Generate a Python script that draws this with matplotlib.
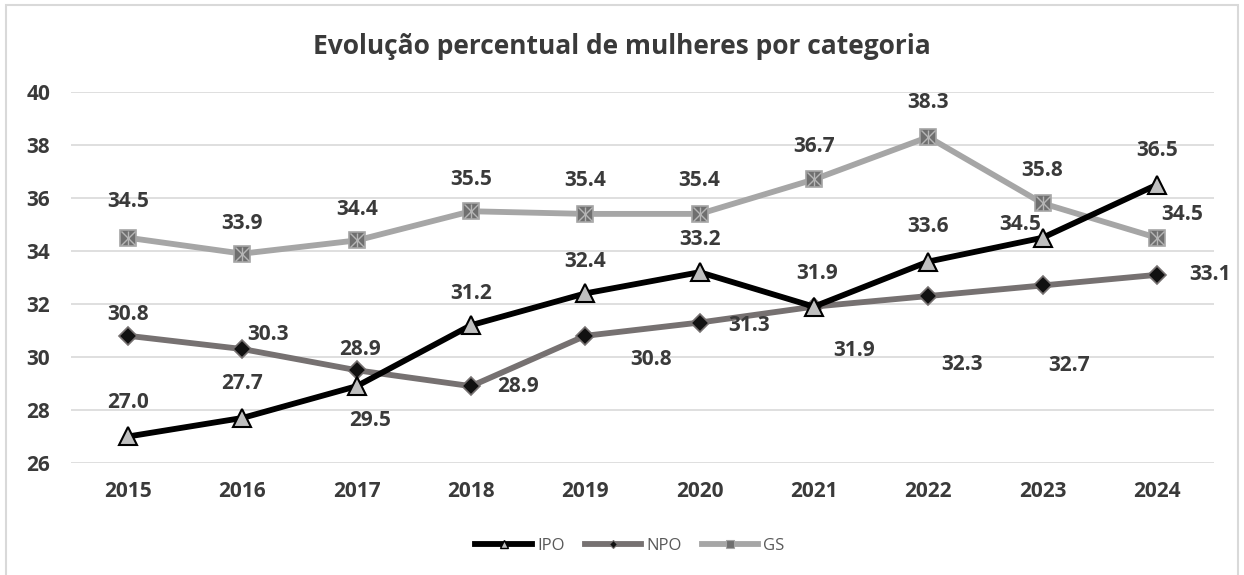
import matplotlib
matplotlib.use("Agg")
import matplotlib.pyplot as plt
from matplotlib.lines import Line2D
from matplotlib.patches import Rectangle

years = ["2015", "2016", "2017", "2018", "2019", "2020", "2021", "2022", "2023", "2024"]
ipo = [27.0, 27.7, 28.9, 31.2, 32.4, 33.2, 31.9, 33.6, 34.5, 36.5]
npo = [30.8, 30.3, 29.5, 28.9, 30.8, 31.3, 31.9, 32.3, 32.7, 33.1]
gs = [34.5, 33.9, 34.4, 35.5, 35.4, 35.4, 36.7, 38.3, 35.8, 34.5]

# label offsets in pixels (layout only)
ipo_off = [(0, 34), (0, 34), (3, 37), (0, 32), (0, 32), (0, 33), (3, 33), (0, 35), (-22, 13), (0, 34)]
npo_off = [(0, 21), (26, 15), (13, -50), (47, 0), (66, -24), (49, -3), (40, -44), (34, -68), (27, -80), (53, 0)]
gs_off = [(0, 36), (0, 30), (0, 31), (0, 32), (0, 33), (0, 33), (0, 33), (0, 35), (0, 33), (25, 23)]

FONT = "Open Sans"
TXT = "#3a3a3a"

fig = plt.figure(figsize=(12.44, 5.75), dpi=100)
ax = fig.add_axes([71 / 1244, 112 / 575, (1214 - 71) / 1244, (463 - 92) / 575])

x = list(range(len(years)))

ax.plot(x, gs, color="#a6a6a6", lw=4.2, zorder=3, solid_capstyle="round")
ax.plot(x, gs, ls="none", marker="s", ms=12, mfc="#6f6f6f", mec="#a6a6a6", mew=1.2, zorder=4)
ax.plot(x, gs, ls="none", marker="x", ms=10, mec="#b5b5b5", mew=1.0, zorder=5)
ax.plot(x, gs, ls="none", marker="|", ms=10, mec="#b5b5b5", mew=1.0, zorder=5)

ax.plot(x, npo, color="#767171", lw=4.2, zorder=6, solid_capstyle="round")
ax.plot(x, npo, ls="none", marker="D", ms=9, mfc="#111111", mec="#767171", mew=1.2, zorder=7)

ax.plot(x, ipo, color="black", lw=4.2, zorder=8, solid_capstyle="round")
ax.plot(x, ipo, ls="none", marker="^", ms=13, mfc="#bfbfbf", mec="black", mew=1.5, zorder=9)

for vals, offs in ((ipo, ipo_off), (npo, npo_off), (gs, gs_off)):
    for i, (v, o) in enumerate(zip(vals, offs)):
        ax.annotate(f"{v:.1f}", (i, v), xytext=o, textcoords="offset pixels",
                    ha="center", va="center", fontsize=15, fontweight="bold",
                    family=FONT, color=TXT, zorder=10)

ax.set_xlim(-0.5, len(years) - 0.5)
ax.set_ylim(26, 40)
ax.set_yticks(range(26, 41, 2))
ax.set_xticks(x)
ax.set_xticklabels(years)
ax.grid(axis="y", color="#d9d9d9", lw=1.2)
ax.set_axisbelow(True)
for s in ax.spines.values():
    s.set_visible(False)
ax.tick_params(length=0, labelsize=15, labelcolor=TXT)
ax.tick_params(axis="x", pad=13)
ax.tick_params(axis="y", pad=15)
for lab in ax.get_xticklabels() + ax.get_yticklabels():
    lab.set_family(FONT)
    lab.set_fontweight("bold")

fig.text(622 / 1244, 1 - 46 / 575, "Evolução percentual de mulheres por categoria",
         ha="center", va="center", fontsize=19, fontweight="bold", family=FONT, color=TXT)

handles = [
    Line2D([], [], color="black", lw=4.2, marker="^", ms=6, mfc="#bfbfbf", mec="black", mew=1),
    Line2D([], [], color="#767171", lw=4.2, marker="D", ms=4.5, mfc="#111111", mec="#767171", mew=0.8),
    Line2D([], [], color="#a6a6a6", lw=4.2, marker="s", ms=6, mfc="#6f6f6f", mec="#a6a6a6", mew=0.8),
]
leg = fig.legend(handles, ["IPO", "NPO", "GS"], loc="center", bbox_to_anchor=(630 / 1244, 1 - 546 / 575),
                 ncol=3, frameon=False, handlelength=3.4, handletextpad=0.3, columnspacing=1.2,
                 prop={"family": FONT, "size": 12})
for t in leg.get_texts():
    t.set_color("#595959")

fig.patches.append(Rectangle((6 / 1244, -0.01), (1238 - 6) / 1244, 1.01 - 5 / 575,
                             transform=fig.transFigure, fill=False, edgecolor="#d9d9d9", lw=1.5))

fig.savefig("out.png", dpi=100, facecolor="white")
